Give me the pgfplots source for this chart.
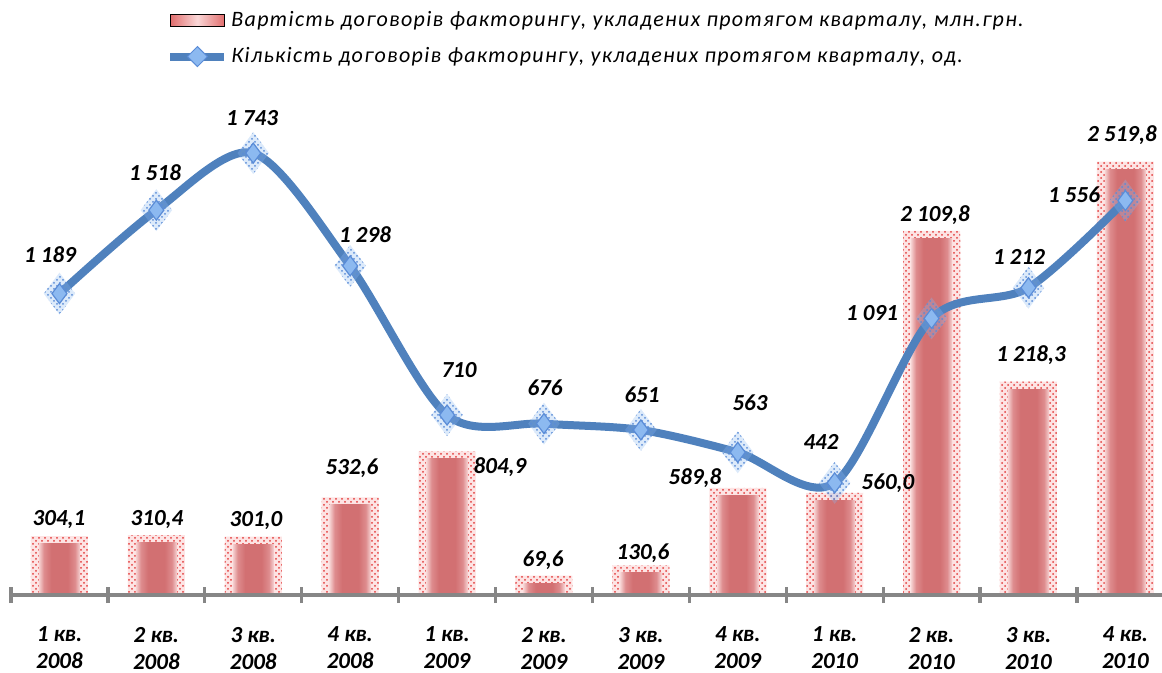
\documentclass[border=0pt]{standalone}
\usepackage{pgfplots}
\pgfplotsset{compat=1.18}
\usepackage{fontspec}
\setmainfont{Carlito}
\newfontfamily\legfont[LetterSpace=6]{Carlito}
\usetikzlibrary{patterns}
\definecolor{lineblue}{RGB}{79,129,189}
\definecolor{markfill}{RGB}{140,185,240}
\definecolor{markdraw}{RGB}{90,140,215}
\definecolor{barmid}{RGB}{210,112,114}
\definecolor{barin}{RGB}{222,140,142}
\definecolor{baredge}{RGB}{246,210,210}
\definecolor{glowpink}{RGB}{253,228,228}
\definecolor{glowred}{RGB}{226,60,60}
\definecolor{axgray}{RGB}{134,134,134}
\definecolor{legred}{RGB}{225,110,110}
\definecolor{legpink}{RGB}{250,215,215}
\pgfdeclarehorizontalshading{barshade}{100bp}{color(0bp)=(baredge); color(25bp)=(baredge); color(31bp)=(barin); color(40bp)=(barmid); color(60bp)=(barmid); color(69bp)=(barin); color(75bp)=(baredge); color(100bp)=(baredge)}
\pgfplotsset{
  glowbar/.style={ybar, bar width=28.5pt, bar shift=0pt, draw=none, fill=glowpink,
    postaction={pattern=crosshatch dots, pattern color=glowred}, forget plot},
  mainbar/.style={ybar, bar width=20.5pt, bar shift=0pt, draw=none,
    shade, shading=barshade, forget plot},
}
\begin{document}
\begin{tikzpicture}[x=0.5pt,y=-0.5pt]
\useasboundingbox (0,0) rectangle (1162,673);
\begin{axis}[
  at={(5.5pt,-297.5pt)}, anchor=south west,
  scale only axis, width=581.4pt, height=253.5pt,
  xmin=0.5, xmax=12.5, ymin=0, ymax=3000,
  hide y axis,
  axis x line*=bottom,
  axis on top,
  x axis line style={axgray, line width=1.6pt},
  xtick={1,...,12},
  xticklabels={{1 кв.\\2008},{2 кв.\\2008},{3 кв.\\2008},{4 кв.\\2008},{1 кв.\\2009},{2 кв.\\2009},{3 кв.\\2009},{4 кв.\\2009},{1 кв.\\2010},{2 кв.\\2010},{3 кв.\\2010},{4 кв.\\2010}},
  xticklabel style={align=center, font=\fontsize{11.5}{13.5}\selectfont\bfseries\itshape, yshift=-12.5pt},
  major tick length=0pt,
  extra x ticks={0.5,1.5,...,12.5},
  extra x tick labels={},
  extra x tick style={major tick length=8pt, tick align=center, tick style={axgray, line width=1.6pt}},
]
% glow behind the bars (the same values, drawn wider, and once raised a little)
\addplot[glowbar] coordinates {(1,304.1)(2,310.4)(3,301.0)(4,532.6)(5,804.9)(6,69.6)(7,130.6)(8,589.8)(9,560.0)(10,2109.8)(11,1218.3)(12,2519.8)};
\addplot[glowbar, yshift=3.75pt] coordinates {(1,304.1)(2,310.4)(3,301.0)(4,532.6)(5,804.9)(6,69.6)(7,130.6)(8,589.8)(9,560.0)(10,2109.8)(11,1218.3)(12,2519.8)};
% bars, one plot each so that each is shaded on its own
\addplot[mainbar] coordinates {(1,304.1)};
\addplot[mainbar] coordinates {(2,310.4)};
\addplot[mainbar] coordinates {(3,301.0)};
\addplot[mainbar] coordinates {(4,532.6)};
\addplot[mainbar] coordinates {(5,804.9)};
\addplot[mainbar] coordinates {(6,69.6)};
\addplot[mainbar] coordinates {(7,130.6)};
\addplot[mainbar] coordinates {(8,589.8)};
\addplot[mainbar] coordinates {(9,560.0)};
\addplot[mainbar] coordinates {(10,2109.8)};
\addplot[mainbar] coordinates {(11,1218.3)};
\addplot[mainbar] coordinates {(12,2519.8)};
\end{axis}
\begin{axis}[
  at={(5.5pt,-297.5pt)}, anchor=south west,
  scale only axis, width=581.4pt, height=253.5pt,
  xmin=0.5, xmax=12.5, ymin=0, ymax=2000,
  hide axis, clip=false,
  legend style={at={(0.1333,1.1578)}, anchor=north west, draw=none, fill=none, inner sep=0pt,
    row sep=6pt, font=\fontsize{11}{12}\selectfont\legfont\itshape,
    nodes={inner sep=1.5pt}},
  legend cell align=left,
]
\addlegendimage{legend image code/.code={\fill[left color=legred, right color=legred, middle color=legpink] (0pt,-3pt) rectangle (27pt,3pt);}}
\addlegendentry{Вартість договорів факторингу, укладених протягом кварталу, млн.грн.}
\addplot[smooth, lineblue, line width=4pt, mark=none,
  legend image code/.code={\draw[lineblue, line width=4pt] (0pt,0pt) -- (27pt,0pt);
     \filldraw[fill=markfill, draw=markdraw, line width=0.5pt] (13.5pt,5pt) -- (18.5pt,0pt) -- (13.5pt,-5pt) -- (8.5pt,0pt) -- cycle;}]
 coordinates {(1,1189)(2,1518)(3,1743)(4,1298)(5,710)(6,676)(7,651)(8,563)(9,442)(10,1091)(11,1212)(12,1556)};
\addlegendentry{Кількість договорів факторингу, укладених протягом кварталу, од.}
\addplot[only marks, color=markfill, mark=diamond*, mark size=10.5pt,
  mark options={solid, draw opacity=0, fill=markfill, fill opacity=0.3}, forget plot]
 coordinates {(1,1189)(2,1518)(3,1743)(4,1298)(5,710)(6,676)(7,651)(8,563)(9,442)(10,1091)(11,1212)(12,1556)};
\addplot[only marks, color=markdraw, mark=diamond*, mark size=10.5pt,
  mark options={solid, draw opacity=0, pattern=crosshatch dots, pattern color=markdraw}, forget plot]
 coordinates {(1,1189)(2,1518)(3,1743)(4,1298)(5,710)(6,676)(7,651)(8,563)(9,442)(10,1091)(11,1212)(12,1556)};
\addplot[only marks, color=markdraw, mark=diamond*, mark size=5pt, mark options={solid, fill=markfill, draw=markdraw, line width=0.6pt}, forget plot]
 coordinates {(1,1189)(2,1518)(3,1743)(4,1298)(5,710)(6,676)(7,651)(8,563)(9,442)(10,1091)(11,1212)(12,1556)};
\end{axis}
\tikzset{lbl/.style={font=\fontsize{11.5}{13}\selectfont\bfseries\itshape, inner sep=0pt}}
% bar labels
\node[lbl] at (59,520) {304,1};
\node[lbl] at (157,520) {310,4};
\node[lbl] at (256,521) {301,0};
\node[lbl] at (352,468) {532,6};
\node[lbl] at (500,467) {804,9};
\node[lbl] at (543,560) {69,6};
\node[lbl] at (643,553) {130,6};
\node[lbl] at (695,478) {589,8};
\node[lbl] at (888,483) {560,0};
\node[lbl] at (935,215) {2 109,8};
\node[lbl] at (1031,355) {1 218,3};
\node[lbl] at (1122,135) {2 519,8};
% line labels
\node[lbl] at (50,255) {1 189};
\node[lbl] at (155,173) {1 518};
\node[lbl] at (252,118) {1 743};
\node[lbl] at (365,235) {1 298};
\node[lbl] at (459,370) {710};
\node[lbl] at (545,388) {676};
\node[lbl] at (642,395) {651};
\node[lbl] at (750,403) {563};
\node[lbl] at (821,442) {442};
\node[lbl] at (872,313) {1 091};
\node[lbl] at (1019,257) {1 212};
\node[lbl] at (1074,195) {1 556};
\end{tikzpicture}
\end{document}
